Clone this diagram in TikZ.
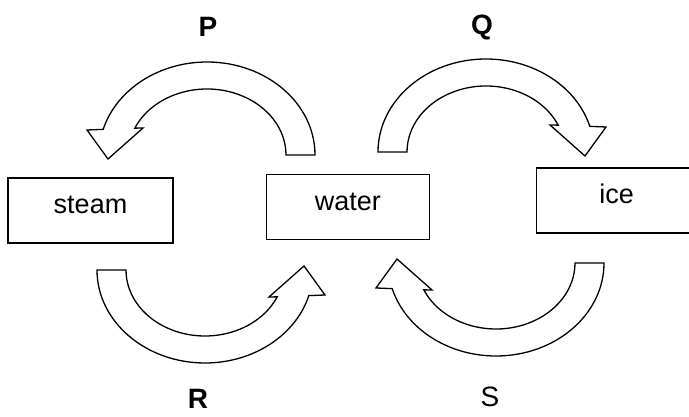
\documentclass[tikz,border=0pt]{standalone}
\usepackage{fontspec}
\setmainfont{Liberation Sans}
\usetikzlibrary{positioning}

\begin{document}
\begin{tikzpicture}[
    x=1pt, y=1pt,
    box/.style={draw, rectangle, line width=1.3pt, inner sep=0pt, minimum width=165pt, minimum height=65pt, text height=19pt, text depth=12pt, font=\fontsize{27}{32}\selectfont},
    letter/.style={anchor=base, inner sep=0pt, font=\fontsize{28}{33}\selectfont\bfseries},
    arrowband/.style={draw, line width=1.3pt, line join=miter, fill=white},
    pics/bentarrow/.style={code={
        \path[arrowband] (108,0) arc[start angle=0, end angle=164, x radius=108, y radius=93]
            -- (-120,25) -- (-99,-4) -- (-64,27) -- (156:79 and 66)
            arc[start angle=156, end angle=0, x radius=79, y radius=66] -- cycle;
    }}
]
    \useasboundingbox (0,0) rectangle (689,417);

    % Boxes
    \node[box] (steam) at (90.5,206.5) {steam};
    \node[box, minimum width=163pt, right=92pt of steam, yshift=3.5pt] (water) {water};
    \node[box, minimum width=160pt, right=106pt of water, yshift=6.5pt] (ice) {ice};

    % Bent arrows
    \pic at (207,262) {bentarrow};
    \pic[xscale=-1] at (486,265) {bentarrow};
    \pic[rotate=180] at (205,147) {bentarrow};
    \pic[yscale=-1] at (496,154) {bentarrow};

    % Labels
    \node[letter] (labP) at (208,380) {P};
    \node[letter] (labQ) at (482,382) {Q};
    \node[letter] (labR) at (198,8) {R};
    \node[letter, font=\fontsize{28}{33}\selectfont] (labS) at (490,10) {S};
\end{tikzpicture}
\end{document}
